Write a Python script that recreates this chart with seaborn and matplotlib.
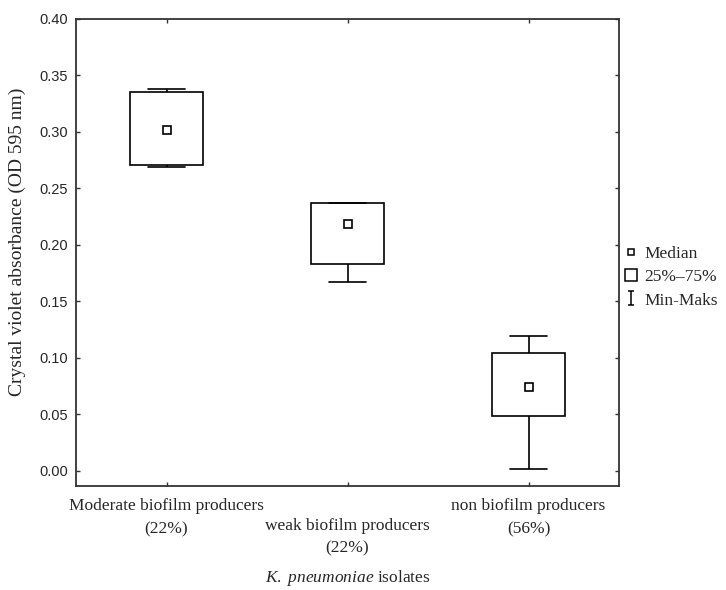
import numpy as np
import pandas as pd
import matplotlib
matplotlib.use("Agg")
import matplotlib.pyplot as plt
import matplotlib.transforms as mtransforms
from matplotlib.lines import Line2D
from matplotlib.path import Path
import seaborn as sns

# values (min, q1, median, q3, max)
groups = ["Moderate biofilm producers\n(22%)",
          "weak biofilm producers\n(22%)",
          "non biofilm producers\n(56%)"]
mins = [0.269, 0.167, 0.001]
q1s = [0.271, 0.183, 0.048]
medians = [0.302, 0.218, 0.074]
q3s = [0.335, 0.237, 0.104]
maxs = [0.338, 0.237, 0.119]
yticks = [0.00, 0.05, 0.10, 0.15, 0.20, 0.25, 0.30, 0.35, 0.40]

# five points per group -> quartiles come out exactly, whiskers at min/max
rows = []
for g, a, b, c, d, e in zip(groups, mins, q1s, medians, q3s, maxs):
    for v in (a, b, c, d, e):
        rows.append({"group": g, "value": v})
df = pd.DataFrame(rows)

sns.set_style("ticks")
plt.rcParams["font.family"] = ["Liberation Serif", "DejaVu Serif"]
plt.rcParams["mathtext.fontset"] = "custom"
plt.rcParams["mathtext.rm"] = "Liberation Serif"
plt.rcParams["mathtext.it"] = "Liberation Serif:italic"

fig = plt.figure(figsize=(7.26, 5.90), dpi=100)
ax = fig.add_axes([76 / 726, 1 - 486 / 590, (619 - 76) / 726, (486 - 19) / 590])

lw = 1.2
sns.boxplot(data=df, x="group", y="value", ax=ax, color="white",
            linecolor="black", linewidth=lw, width=0.4, whis=(0, 100),
            showfliers=False, medianprops={"visible": False})
ax.plot(range(len(groups)), medians, ls="none", marker="s", markersize=5.2,
        mfc="white", mec="black", mew=lw, zorder=5)

ax.set_xlim(-0.5, 2.5)
ax.set_ylim(-0.0137, 0.40)
ax.set_yticks(yticks)
ax.set_yticklabels([f"{t:.2f}" for t in yticks], fontfamily="Liberation Sans",
                   fontsize=10.5)
ax.set_xticks(range(len(groups)))
ax.set_xticklabels(groups, fontsize=12.5, linespacing=1.55)
ax.tick_params(direction="in", length=3, width=1, top=True, right=True,
               color="#333333")
ax.tick_params(axis="y", pad=6)
ax.tick_params(axis="x", pad=9)
for s in ax.spines.values():
    s.set_visible(True)
    s.set_linewidth(1.3)
    s.set_color("#333333")

# middle category label sits lower than the other two
mid = ax.get_xticklabels()[1]
mid.set_transform(mid.get_transform() +
                  mtransforms.ScaledTranslation(0, -19 / 100, fig.dpi_scale_trans))

ax.set_ylabel("Crystal violet absorbance (OD 595 nm)", fontsize=14)
ax.yaxis.set_label_coords(-0.092, 0.522)
ax.set_xlabel(r"$\it{K.\ pneumoniae}$ isolates", fontsize=12.5)
ax.xaxis.set_label_coords(0.5, -0.176)

whisker_marker = Path([(-0.5, 1), (0.5, 1), (0, 1), (0, -1), (-0.5, -1), (0.5, -1)],
                      [Path.MOVETO, Path.LINETO, Path.MOVETO, Path.LINETO,
                       Path.MOVETO, Path.LINETO])
handles = [
    Line2D([], [], ls="none", marker="s", markersize=4.5, mfc="white",
           mec="black", mew=1.1),
    Line2D([], [], ls="none", marker="s", markersize=9.3, mfc="white",
           mec="black", mew=1.1),
    Line2D([], [], ls="none", marker=whisker_marker, markersize=10,
           mec="black", mew=1.1),
]
fig.legend(handles, ["Median", "25%\u201375%", "Min-Maks"], loc="center left",
           bbox_to_anchor=(624 / 726, 1 - 277 / 590), frameon=False,
           fontsize=12.5, handlelength=0.8, handletextpad=0.35,
           labelspacing=0.42, borderpad=0, borderaxespad=0)

fig.savefig("out.png", dpi=100)
